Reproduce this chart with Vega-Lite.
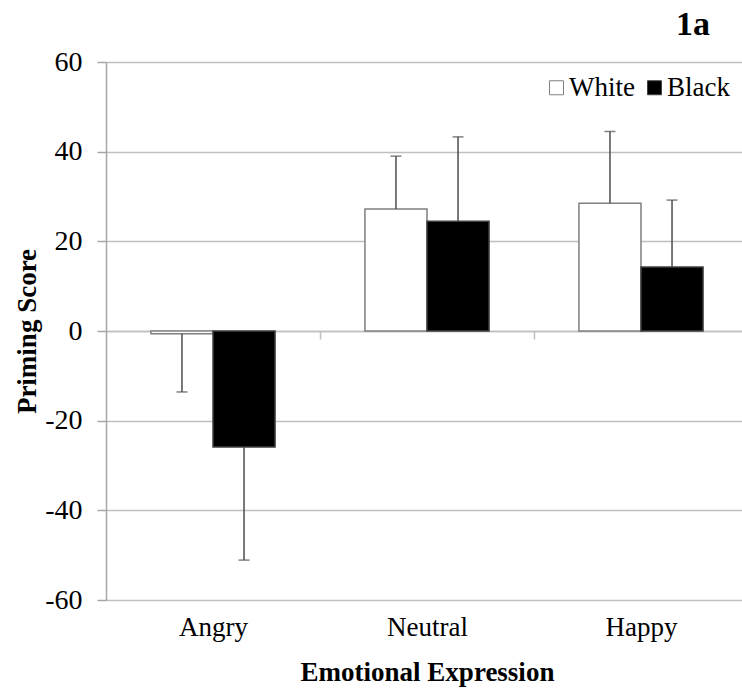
{
  "$schema": "https://vega.github.io/schema/vega-lite/v6.json",
  "autosize": "none",
  "padding": {"left": 106, "top": 62, "right": 0, "bottom": 93},
  "width": 636,
  "height": 538,
  "background": "white",
  "title": {
    "text": "1a",
    "anchor": "end",
    "frame": "group",
    "font": "Liberation Serif",
    "fontSize": 34,
    "fontWeight": "bold",
    "color": "black",
    "dx": -32,
    "dy": 16,
    "offset": 22
  },
  "data": {
    "values": [
      {"emotion": "Angry", "group": "White", "value": -0.6, "err": -13.6},
      {"emotion": "Angry", "group": "Black", "value": -25.9, "err": -51.1},
      {"emotion": "Neutral", "group": "White", "value": 27.2, "err": 39.0},
      {"emotion": "Neutral", "group": "Black", "value": 24.5, "err": 43.3},
      {"emotion": "Happy", "group": "White", "value": 28.5, "err": 44.5},
      {"emotion": "Happy", "group": "Black", "value": 14.3, "err": 29.2}
    ]
  },
  "encoding": {
    "x": {
      "field": "emotion",
      "type": "nominal",
      "sort": ["Angry", "Neutral", "Happy"],
      "scale": {"domain": ["Angry", "Neutral", "Happy"], "range": [0, 642], "paddingInner": 0.42, "paddingOuter": 0.21},
      "axis": {
        "orient": "bottom",
        "offset": -269,
        "tickOffset": 107,
        "labelOffset": -107,
        "tickSize": 8,
        "tickColor": "#bfbfbf",
        "tickWidth": 1.5,
        "domainColor": "#bfbfbf",
        "domainWidth": 1.5,
        "labelAngle": 0,
        "labelPadding": 275,
        "labelFont": "Liberation Serif",
        "labelFontSize": 27,
        "labelColor": "black",
        "title": "Emotional Expression",
        "titleFont": "Liberation Serif",
        "titleFontSize": 27,
        "titleFontWeight": "bold",
        "titleColor": "black",
        "titleBaseline": "alphabetic",
        "titleY": 349,
        "grid": false
      }
    },
    "xOffset": {
      "field": "group",
      "type": "nominal",
      "sort": ["White", "Black"],
      "scale": {"domain": ["White", "Black"], "paddingInner": 0, "paddingOuter": 0}
    }
  },
  "layer": [
    {
      "mark": {"type": "bar", "strokeWidth": 1.5},
      "encoding": {
        "y": {
          "field": "value",
          "type": "quantitative",
          "scale": {"domain": [-60, 60], "nice": false, "zero": false},
          "axis": {
            "values": [-60, -40, -20, 0, 20, 40, 60],
            "labelExpr": "toString(datum.value)",
            "grid": true,
            "gridColor": "#bfbfbf",
            "gridWidth": 1.5,
            "domainColor": "#a6a6a6",
            "domainWidth": 1.5,
            "tickColor": "#a6a6a6",
            "tickWidth": 1.5,
            "tickSize": 9,
            "labelPadding": 15,
            "labelFont": "Liberation Serif",
            "labelFontSize": 28,
            "labelColor": "black",
            "title": "Priming Score",
            "titleFont": "Liberation Serif",
            "titleFontSize": 27,
            "titleFontWeight": "bold",
            "titleColor": "black",
            "titleBaseline": "middle",
            "titleX": -79,
            "titleY": 269
          }
        },
        "fill": {
          "field": "group",
          "type": "nominal",
          "scale": {"domain": ["White", "Black"], "range": ["#ffffff", "#000000"]},
          "legend": {
            "title": null,
            "orient": "top-right",
            "direction": "horizontal",
            "offset": 12,
            "symbolType": "square",
            "symbolSize": 196,
            "symbolStrokeColor": "black",
            "symbolStrokeWidth": 1,
            "columnPadding": 6,
            "labelOffset": -1,
            "labelFont": "Liberation Serif",
            "labelFontSize": 27,
            "labelColor": "black"
          }
        },
        "stroke": {
          "field": "group",
          "type": "nominal",
          "scale": {"domain": ["White", "Black"], "range": ["#7f7f7f", "#404040"]},
          "legend": null
        }
      }
    },
    {
      "mark": {"type": "rule", "color": "#4d4d4d", "strokeWidth": 1.5},
      "encoding": {
        "y": {"field": "value", "type": "quantitative"},
        "y2": {"field": "err"}
      }
    },
    {
      "mark": {"type": "tick", "color": "#4d4d4d", "thickness": 1.5, "size": 11, "orient": "horizontal"},
      "encoding": {
        "y": {"field": "err", "type": "quantitative"}
      }
    }
  ],
  "config": {
    "view": {"stroke": null}
  }
}
